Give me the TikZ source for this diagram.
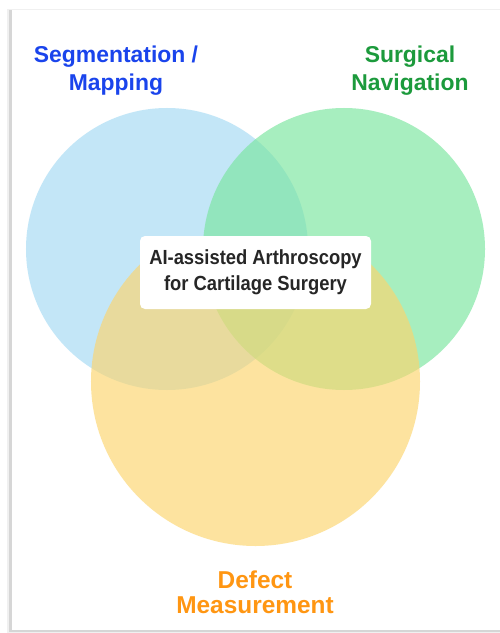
\documentclass[tikz,border=0pt]{standalone}
\usepackage{fontspec}
\setmainfont{Liberation Sans}
\newfontfamily\boxfont[FakeStretch=0.9]{Liberation Sans}
\usetikzlibrary{positioning}

\definecolor{segblue}{HTML}{A4DAF4}
\definecolor{navgreen}{HTML}{79E59E}
\definecolor{deforange}{HTML}{FCD56D}
\definecolor{segtext}{HTML}{1A44EC}
\definecolor{navtext}{HTML}{1C9A3C}
\definecolor{deftext}{HTML}{FF9612}

\begin{document}
\begin{tikzpicture}[x=1bp, y=-1bp,
  venn/.style={circle, inner sep=0pt, draw=none, fill opacity=0.65},
  lbl/.style={font=\fontsize{23}{28}\selectfont\bfseries, align=center, inner sep=0pt},
  titlebox/.style={fill=white, rounded corners=5bp, minimum width=231bp, minimum height=73bp,
    align=center, inner sep=0pt, text=black!85,
    font=\boxfont\fontsize{20.5}{26}\selectfont\bfseries}
]
\useasboundingbox (0,0) rectangle (500,633);
% card with a soft shadow
\fill[white] (0,0) rectangle (500,633);
\fill[black!6] (7,9) rectangle (500,633);
\fill[black!16] (9,10) rectangle (500,632);
\fill[white] (12,10) rectangle (500,630);

% the three sets
\node[venn, fill=segblue, minimum size=282bp] (seg) at (167,249) {};
\node[venn, fill=navgreen, minimum size=282bp] (nav) at (344,249) {};
\begin{scope}
  \clip (0,236) rectangle (500,633);
  \node[venn, fill=deforange, minimum size=329bp] (def) at (255.5,381.5) {};
\end{scope}

\node[titlebox] (core) at (255.5,272.5) {AI-assisted Arthroscopy\\for Cartilage Surgery};

\node[lbl, text=segtext] (seglbl) at (116,71) {Segmentation /\\Mapping};
\node[lbl, text=navtext] (navlbl) at (410,71) {Surgical\\Navigation};
\node[lbl, text=deftext, font=\fontsize{24.5}{25}\selectfont\bfseries] (deflbl) at (255,592) {Defect\\Measurement};
\end{tikzpicture}
\end{document}
